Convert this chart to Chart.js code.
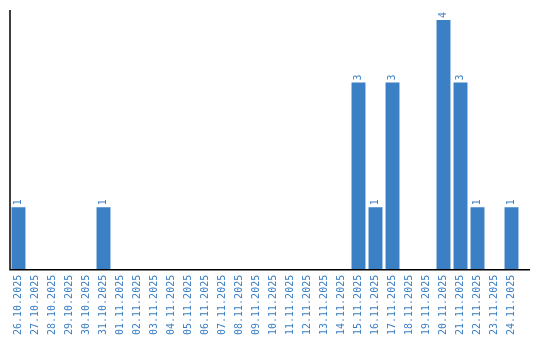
<!DOCTYPE html>
<html>
<head>
<meta charset="utf-8">
<script src="https://cdn.jsdelivr.net/npm/chart.js@4"></script>
<style>
  html, body { margin: 0; padding: 0; background: #fff; }
  #wrap { width: 540px; height: 340px; }
</style>
</head>
<body>
<div id="wrap"><canvas id="bar-chart" width="540" height="340"></canvas></div>
<script>
var days = ["26.10.2025", "27.10.2025", "28.10.2025", "29.10.2025", "30.10.2025", "31.10.2025",
    "01.11.2025", "02.11.2025", "03.11.2025", "04.11.2025", "05.11.2025", "06.11.2025",
    "07.11.2025", "08.11.2025", "09.11.2025", "10.11.2025", "11.11.2025", "12.11.2025",
    "13.11.2025", "14.11.2025", "15.11.2025", "16.11.2025", "17.11.2025", "18.11.2025",
    "19.11.2025", "20.11.2025", "21.11.2025", "22.11.2025", "23.11.2025", "24.11.2025"];
var counts = [1, 0, 0, 0, 0, 1,
    0, 0, 0, 0, 0, 0,
    0, 0, 0, 0, 0, 0,
    0, 0, 3, 1, 3, 0,
    0, 4, 3, 1, 0, 1];

var blue = "#3b7fc4";
var monoFont = "10px 'DejaVu Sans Mono', monospace";

// value labels above bars, rotated like the ticks
var barLabels = {
    id: "barLabels",
    afterDatasetsDraw: function (chart) {
        var ctx = chart.ctx;
        var meta = chart.getDatasetMeta(0);
        ctx.save();
        ctx.font = monoFont;
        ctx.fillStyle = blue;
        ctx.textAlign = "left";
        ctx.textBaseline = "middle";
        meta.data.forEach(function (bar, i) {
            if (!counts[i]) return;
            ctx.save();
            ctx.translate(bar.x, bar.y - 2);
            ctx.rotate(-Math.PI / 2);
            ctx.fillText(String(counts[i]), 0, 0);
            ctx.restore();
        });
        ctx.restore();
    }
};

// plain black axis lines, the bottom one runs a bit past the last bar
var axisLines = {
    id: "axisLines",
    afterDraw: function (chart) {
        var a = chart.chartArea;
        var ctx = chart.ctx;
        ctx.save();
        ctx.strokeStyle = "#000";
        ctx.lineWidth = 1.5;
        ctx.beginPath();
        ctx.moveTo(a.left, a.top);
        ctx.lineTo(a.left, a.bottom);
        ctx.lineTo(a.right + 10, a.bottom);
        ctx.stroke();
        ctx.restore();
    }
};

new Chart(document.getElementById("bar-chart"), {
    type: 'bar',
    data: {
        labels: days,
        datasets: [
            {
                label: "Count",
                backgroundColor: blue,
                data: counts,
                barPercentage: 0.82,
                categoryPercentage: 1
            }
        ]
    },
    options: {
        responsive: false,
        animation: false,
        layout: { padding: { left: 10, top: 10, right: 20, bottom: 0 } },
        plugins: {
            legend: { display: false },
            tooltip: { enabled: false }
        },
        scales: {
            x: {
                grid: { display: false, drawTicks: false },
                border: { display: false },
                ticks: {
                    color: blue,
                    font: { family: "'DejaVu Sans Mono', monospace", size: 10 },
                    minRotation: 90,
                    maxRotation: 90,
                    autoSkip: false,
                    padding: 5
                }
            },
            y: {
                display: false,
                min: 0,
                max: 4.16
            }
        }
    },
    plugins: [barLabels, axisLines]
});
</script>
</body>
</html>
